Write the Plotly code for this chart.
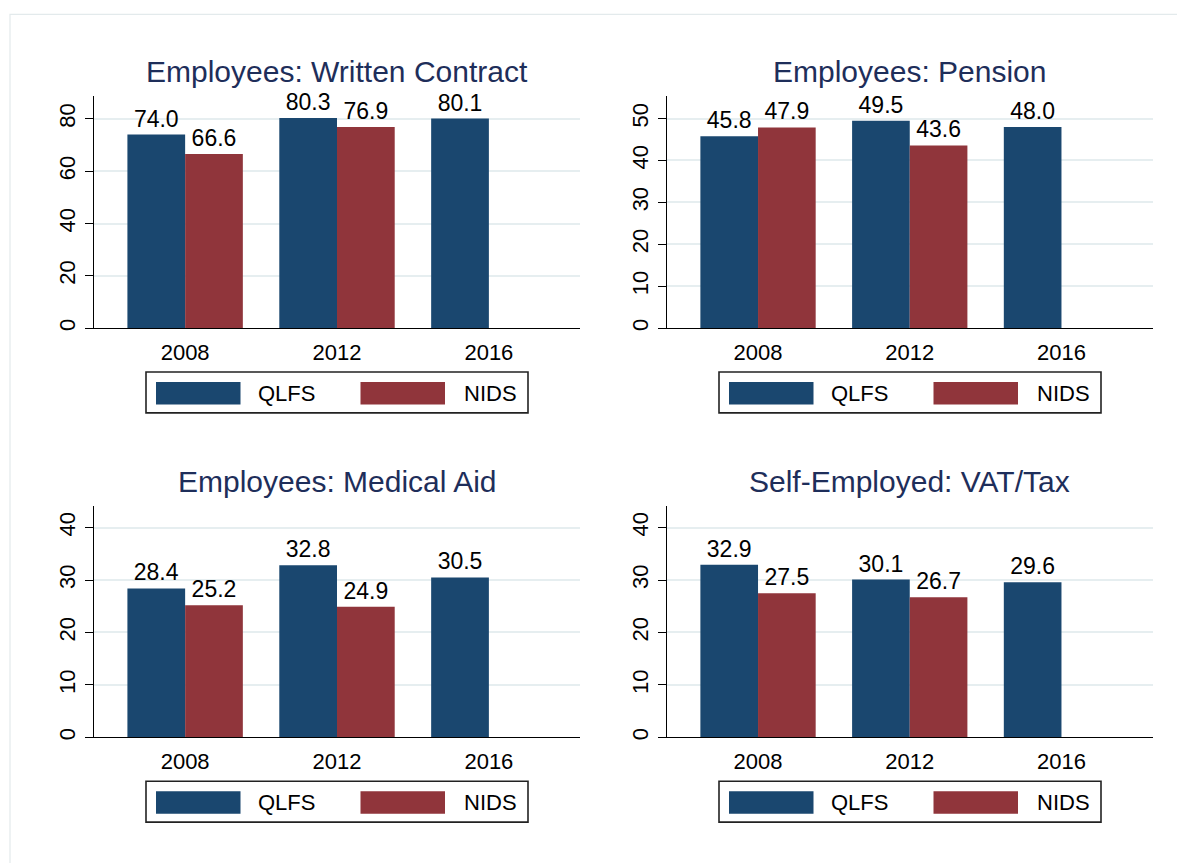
import plotly.graph_objects as go

# ---------------- data ----------------
categories = ["2008", "2012", "2016"]
series_names = ["QLFS", "NIDS"]
panel_titles = ["Employees: Written Contract", "Employees: Pension",
                "Employees: Medical Aid", "Self-Employed: VAT/Tax"]

qlfs_contract = [74.0, 80.3, 80.1]
nids_contract = [66.6, 76.9, None]
qlfs_pension = [45.8, 49.5, 48.0]
nids_pension = [47.9, 43.6, None]
qlfs_medical = [28.4, 32.8, 30.5]
nids_medical = [25.2, 24.9, None]
qlfs_vat = [32.9, 30.1, 29.6]
nids_vat = [27.5, 26.7, None]

y_tick_vals = [[0, 20, 40, 60, 80], [0, 10, 20, 30, 40, 50],
               [0, 10, 20, 30, 40], [0, 10, 20, 30, 40]]
y_max = [88.6, 55.3, 44.2, 44.2]

# ---------------- style / layout ----------------
W, H = 1177, 863
FONT = "Liberation Sans, Arial, Helvetica, sans-serif"
C_QLFS = "#1a476f"
C_NIDS = "#90353b"
C_TITLE = "#1e2e5a"
C_GRID = "#e6eef0"

def px_x(p):
    return p / W

def px_y(p):
    return 1 - p / H

# plot-area pixel boxes: (left, right, top, bottom)
boxes = [(94, 580, 96.7, 329.3), (667, 1152.5, 96.7, 329.3),
         (94, 580, 507.3, 740), (667, 1152.5, 507.3, 740)]

panels = [(qlfs_contract, nids_contract), (qlfs_pension, nids_pension),
          (qlfs_medical, nids_medical), (qlfs_vat, nids_vat)]

fig = go.Figure()
shapes = []
annotations = []

def fmt(vals):
    return ["" if v is None else f"{v:.1f}" for v in vals]

for i, ((q, n), (L, R, T, B)) in enumerate(zip(panels, boxes)):
    sfx = "" if i == 0 else str(i + 1)
    for vals, name, col in ((q, "QLFS", C_QLFS), (n, "NIDS", C_NIDS)):
        fig.add_trace(go.Bar(
            x=categories, y=vals, name=name, showlegend=False,
            marker=dict(color=col, line=dict(width=0)),
            text=fmt(vals), textposition="outside",
            textfont=dict(family=FONT, size=23, color="black"),
            cliponaxis=False, constraintext="none",
            xaxis="x" + sfx, yaxis="y" + sfx,
        ))
    fig.layout["xaxis" + sfx] = dict(
        domain=[px_x(L), px_x(R)], anchor="y" + sfx,
        type="category", categoryorder="array", categoryarray=categories,
        range=[-0.6, 2.6], showline=True, linecolor="black", linewidth=1.4,
        ticks="", showgrid=False, zeroline=False,
        tickfont=dict(family=FONT, size=22, color="black"),
        ticklabelstandoff=4, fixedrange=True,
    )
    fig.layout["yaxis" + sfx] = dict(
        domain=[px_y(B), px_y(T)], anchor="x" + sfx,
        range=[0, y_max[i]], tickvals=y_tick_vals[i],
        showline=True, linecolor="black", linewidth=1.4,
        ticks="outside", ticklen=8, tickwidth=1.4, tickcolor="black",
        tickangle=-90, showgrid=True, gridcolor=C_GRID, gridwidth=1.5,
        zeroline=False,
        tickfont=dict(family=FONT, size=22, color="black"),
        ticklabelstandoff=1, fixedrange=True,
    )
    # panel title
    annotations.append(dict(
        text=panel_titles[i], x=px_x((L + R) / 2), y=px_y(T - 24.5),
        xref="paper", yref="paper", xanchor="center", yanchor="middle",
        showarrow=False, font=dict(family=FONT, size=30, color=C_TITLE)))
    # legend box
    shapes.append(dict(type="rect", xref="paper", yref="paper",
                       x0=px_x(L + 52), x1=px_x(L + 434),
                       y0=px_y(B + 44), y1=px_y(B + 85),
                       line=dict(color="#222222", width=1.6),
                       fillcolor="white"))
    for (sx0, sx1, tx, name, col) in ((62, 146.5, 192, "QLFS", C_QLFS),
                                      (266.5, 351, 396, "NIDS", C_NIDS)):
        shapes.append(dict(type="rect", xref="paper", yref="paper",
                           x0=px_x(L + sx0), x1=px_x(L + sx1),
                           y0=px_y(B + 54), y1=px_y(B + 76.7),
                           line=dict(width=0), fillcolor=col))
        annotations.append(dict(
            text=name, x=px_x(L + tx), y=px_y(B + 65.5),
            xref="paper", yref="paper", xanchor="center", yanchor="middle",
            showarrow=False, font=dict(family=FONT, size=22, color="black")))

# outer graph-region border (extends past the bottom/right edges)
shapes.append(dict(type="rect", xref="paper", yref="paper",
                   x0=px_x(10), x1=px_x(1200), y0=px_y(14.5), y1=px_y(900),
                   line=dict(color="#e3eaec", width=1.2), layer="below"))

fig.update_layout(
    width=W, height=H, margin=dict(l=0, r=0, t=0, b=0),
    paper_bgcolor="white", plot_bgcolor="white",
    barmode="group", bargap=0.24, bargroupgap=0,
    showlegend=False, shapes=shapes, annotations=annotations,
    font=dict(family=FONT),
)

fig.write_html(
    "out.html",
    config={"displayModeBar": False},
    post_script="document.body.style.margin='0';document.body.style.padding='0';"
                "document.body.style.overflow='hidden';",
)
